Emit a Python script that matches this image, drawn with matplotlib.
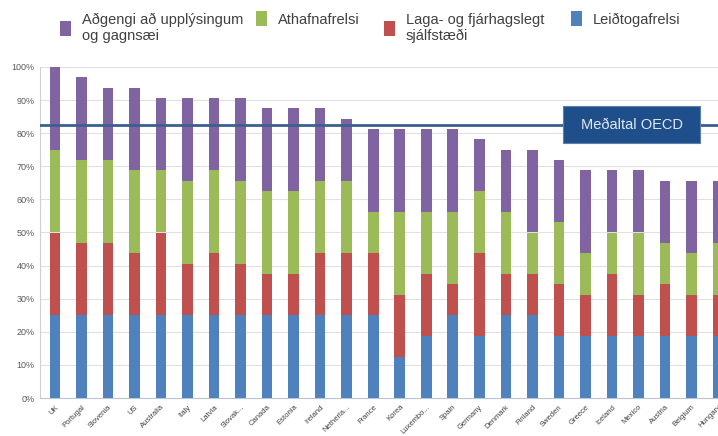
import numpy as np
import matplotlib
matplotlib.use("Agg")
import matplotlib.pyplot as plt
from matplotlib.patches import Rectangle

plt.rcParams['font.family'] = ['Liberation Sans', 'DejaVu Sans']

# Countries (x-axis) and the four stacked components, in percent
countries = ["UK", "Portugal", "Slovenia", "US", "Australia", "Italy", "Latvia",
             "Slovak...", "Canada", "Estonia", "Ireland", "Netherla...", "France",
             "Korea", "Luxembo...", "Spain", "Germany", "Denmark", "Finland",
             "Sweden", "Greece", "Iceland", "Mexico", "Austria", "Belgium", "Hungary"]

leidtogafrelsi = [25, 25, 25, 25, 25, 25, 25, 25, 25, 25, 25, 25, 25,
                  12.5, 18.75, 25, 18.75, 25, 25, 18.75, 18.75, 18.75, 18.75,
                  18.75, 18.75, 18.75]
laga_fjarhags = [25, 21.875, 21.875, 18.75, 25, 15.625, 18.75, 15.625, 12.5,
                 12.5, 18.75, 18.75, 18.75, 18.75, 18.75, 9.375, 25, 12.5, 12.5,
                 15.625, 12.5, 18.75, 12.5, 15.625, 12.5, 12.5]
athafnafrelsi = [25, 25, 25, 25, 18.75, 25, 25, 25, 25, 25, 21.875, 21.875,
                 12.5, 25, 18.75, 21.875, 18.75, 18.75, 12.5, 18.75, 12.5, 12.5,
                 18.75, 12.5, 12.5, 15.625]
adgengi = [25, 25, 21.875, 25, 21.875, 25, 21.875, 25, 25, 25, 21.875, 18.75,
           25, 25, 25, 25, 15.625, 18.75, 25, 18.75, 25, 18.75, 18.75, 18.75,
           21.875, 18.75]

oecd_mean = 82.5

series = [leidtogafrelsi, laga_fjarhags, athafnafrelsi, adgengi]
colors = ["#4f81bd", "#c0504d", "#9bbb59", "#8064a2"]
legend_labels = ["Aðgengi að upplýsingum\nog gagnsæi", "Athafnafrelsi",
                 "Laga- og fjárhagslegt\nsjálfstæði", "Leiðtogafrelsi"]
legend_colors = ["#8064a2", "#9bbb59", "#c0504d", "#4f81bd"]

W, H = 718, 436
fig = plt.figure(figsize=(W / 100, H / 100), dpi=100)
ax = fig.add_axes([40 / W, 38 / H, 678 / W, 331 / H])

x = np.arange(len(countries))
bottom = np.zeros(len(countries))
for vals, c in zip(series, colors):
    vals = np.array(vals)
    ax.bar(x, vals, width=0.4, bottom=bottom, color=c, zorder=2)
    bottom += vals

ax.set_xlim(-0.565, 24.98)
ax.set_ylim(0, 100)
ax.set_yticks(np.arange(0, 101, 10))
ax.set_yticklabels([f"{v}%" for v in range(0, 101, 10)], fontsize=6.5, color="#595959")
ax.set_xticks(x)
ax.set_xticklabels(countries, rotation=45, ha="right", rotation_mode="anchor",
                   fontsize=5.5, color="#404040")
ax.tick_params(length=0, pad=4)
ax.grid(axis="y", color="#e0e0e0", lw=0.8, zorder=0)
for s in ["top", "right"]:
    ax.spines[s].set_visible(False)
ax.spines["left"].set_color("#d0d0d0")
ax.spines["bottom"].set_color("#b8c4d8")

# OECD average line with label box
ax.axhline(oecd_mean, color="#3c5f91", lw=2, zorder=4)
ax.add_patch(Rectangle((0.7714, 0.770), 0.2021, 0.112, transform=ax.transAxes,
                       facecolor="#1f4f8a", edgecolor="#5c7fae", lw=0.8, zorder=5))
ax.text(0.8725, 0.826, "Meðaltal OECD", transform=ax.transAxes, ha="center",
        va="center", fontsize=10.5, color="#dfe7f1", zorder=6)

# legend, drawn by hand to follow the original spacing
leg_x = [60, 256, 384, 571]
for lx, lab, c in zip(leg_x, legend_labels, legend_colors):
    two = "\n" in lab
    yc = 29 if two else 19
    fig.add_artist(Rectangle((lx / W, (H - yc - 7.5) / H), 11 / W, 15 / H,
                             transform=fig.transFigure, facecolor=c, edgecolor="none"))
    fig.text((lx + 22) / W, (H - 13) / H, lab, ha="left", va="top", fontsize=10.5,
             color="#404040", linespacing=1.15)

fig.savefig("out.png", dpi=100)
